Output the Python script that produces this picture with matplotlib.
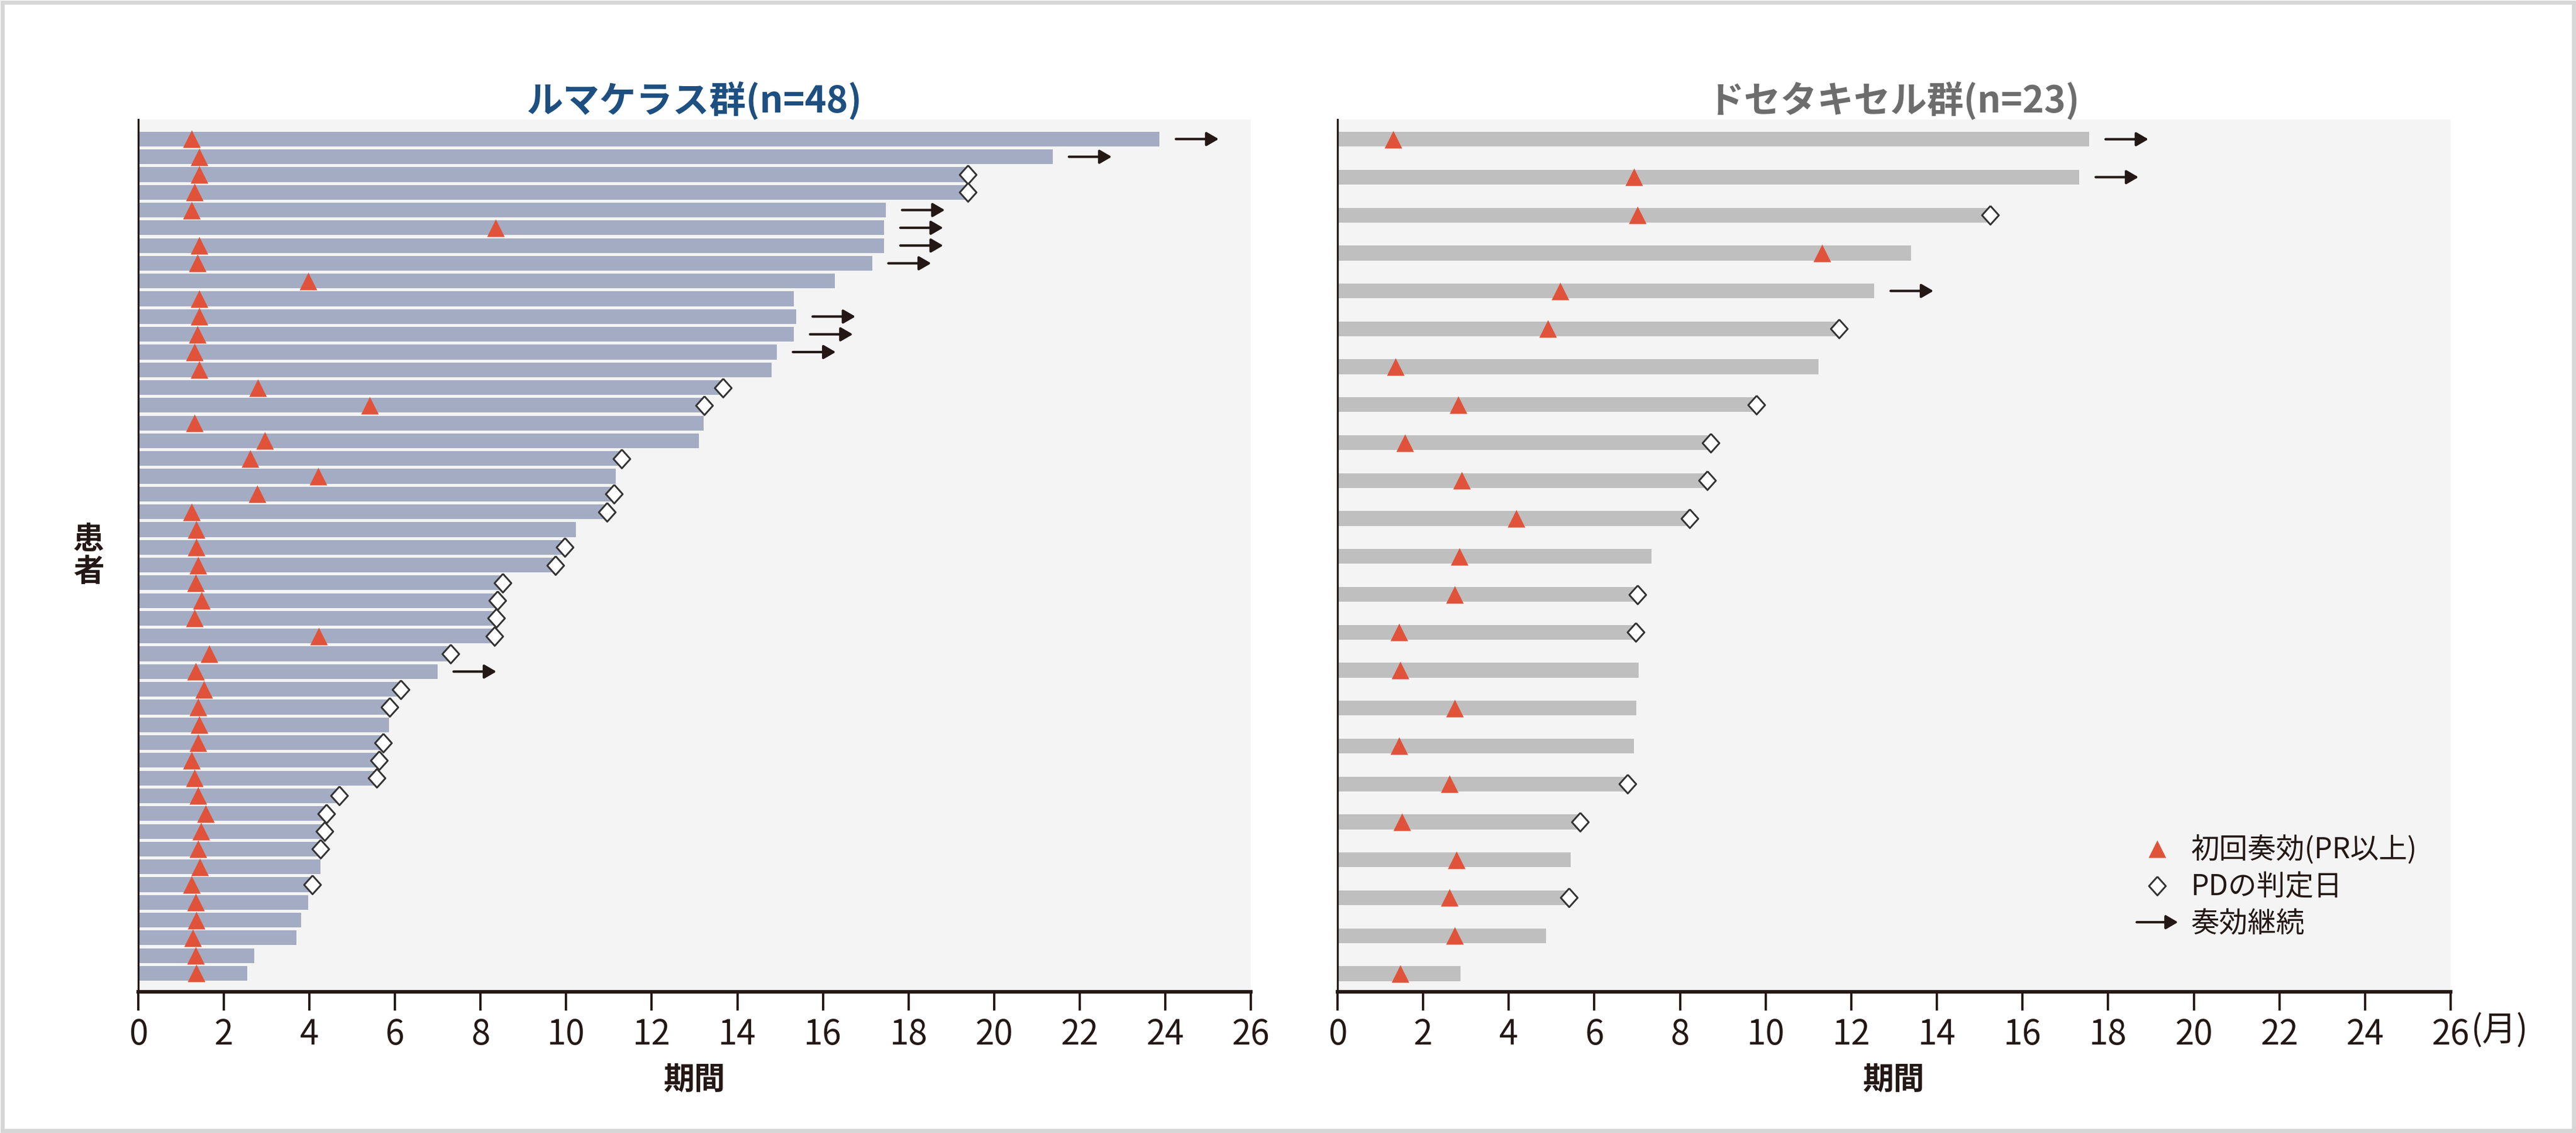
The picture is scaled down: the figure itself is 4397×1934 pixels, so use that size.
#Swimmer plot: response duration by patient, two treatment groups
import numpy as np
import matplotlib.pyplot as plt
from matplotlib.lines import Line2D
from matplotlib.patches import FancyArrowPatch, Rectangle
from matplotlib.legend_handler import HandlerBase

plt.rcParams['font.family'] = ['Noto Sans CJK JP', 'DejaVu Sans']


#1. Data (months), top row first
left_title = 'ルマケラス群(n=48)'
left_end = [23.87, 21.37, 19.39, 19.39, 17.47, 17.43, 17.43, 17.15, 16.28, 15.32,
            15.38, 15.32, 14.92, 14.80, 13.67, 13.23, 13.21, 13.10, 11.29, 11.16,
            11.12, 10.96, 10.23, 9.97, 9.75, 8.51, 8.39, 8.37, 8.33, 7.30,
            6.99, 6.14, 5.88, 5.86, 5.72, 5.63, 5.57, 4.70, 4.40, 4.36,
            4.26, 4.26, 4.07, 3.97, 3.80, 3.69, 2.71, 2.55]
left_first = [1.25, 1.42, 1.42, 1.32, 1.25, 8.35, 1.42, 1.38, 3.97, 1.42,
              1.42, 1.38, 1.32, 1.42, 2.80, 5.41, 1.31, 2.96, 2.61, 4.21,
              2.78, 1.25, 1.36, 1.36, 1.40, 1.34, 1.48, 1.31, 4.22, 1.65,
              1.34, 1.54, 1.40, 1.42, 1.40, 1.25, 1.32, 1.40, 1.57, 1.46,
              1.40, 1.44, 1.25, 1.34, 1.36, 1.27, 1.34, 1.36]
# 'pd' = PD date, 'arrow' = response ongoing, '' = nothing
left_status = ['arrow', 'arrow', 'pd', 'pd', 'arrow', 'arrow', 'arrow', 'arrow', '', '',
               'arrow', 'arrow', 'arrow', '', 'pd', 'pd', '', '', 'pd', '',
               'pd', 'pd', '', 'pd', 'pd', 'pd', 'pd', 'pd', 'pd', 'pd',
               'arrow', 'pd', 'pd', '', 'pd', 'pd', 'pd', 'pd', 'pd', 'pd',
               'pd', '', 'pd', '', '', '', '', '']

right_title = 'ドセタキセル群(n=23)'
right_end = [17.56, 17.33, 15.24, 13.40, 12.54, 11.72, 11.24, 9.78, 8.72, 8.63,
             8.23, 7.33, 7.00, 6.96, 7.04, 6.98, 6.92, 6.77, 5.66, 5.45,
             5.41, 4.87, 2.88]
right_first = [1.30, 6.92, 7.00, 11.31, 5.20, 4.91, 1.36, 2.82, 1.57, 2.90,
               4.18, 2.84, 2.74, 1.44, 1.46, 2.74, 1.44, 2.61, 1.50, 2.78,
               2.61, 2.74, 1.46]
right_status = ['arrow', 'arrow', 'pd', '', 'arrow', 'pd', '', 'pd', 'pd', 'pd',
                'pd', '', 'pd', 'pd', '', '', '', 'pd', 'pd', '',
                'pd', '', '']

xticks = list(range(0, 27, 2))
legend_labels = ['初回奏効(PR以上)', 'PDの判定日', '奏効継続']


#2. Styles
INK = '#231815'
RED = '#e0533a'
BG = '#f4f4f4'
diamond = [(0, 1), (0.9, 0), (0, -1), (-0.9, 0), (0, 1)]
arrow_style = '-|>,head_length=0.62,head_width=0.36'


def draw_panel(ax, ends, firsts, status, title, bar_color, bar_h, title_color, pad_rows):
    n = len(ends)
    rows = np.arange(n)
    ax.set_facecolor(BG)
    ax.barh(rows, ends, height=bar_h, color=bar_color, zorder=2)
    ax.plot(firsts, rows, linestyle='none', marker='^', ms=10.5,
            color=RED, mec='none', zorder=4)
    pd_x = [e for e, s in zip(ends, status) if s == 'pd']
    pd_y = [r for r, s in zip(rows, status) if s == 'pd']
    ax.plot(pd_x, pd_y, linestyle='none', marker=diamond, ms=11.5,
            mfc='white', mec='#333333', mew=1.1, zorder=5)
    for r, e, s in zip(rows, ends, status):
        if s == 'arrow':
            ax.annotate('', xy=(e + 1.38, r), xytext=(e + 0.38, r),
                        arrowprops=dict(arrowstyle=arrow_style, lw=1.5, color=INK,
                                        shrinkA=0, shrinkB=0), zorder=5)
    ax.set_xlim(0, 26)
    ax.set_ylim(n - 1 + pad_rows[1], -pad_rows[0])
    ax.set_xticks(xticks)
    ax.set_yticks([])
    ax.tick_params(axis='x', direction='out', length=11.5, width=1.4,
                   colors=INK, labelsize=21, pad=4)
    for side in ['top', 'right']:
        ax.spines[side].set_visible(False)
    ax.spines['left'].set_linewidth(1.2)
    ax.spines['left'].set_color(INK)
    ax.spines['bottom'].set_linewidth(2.2)
    ax.spines['bottom'].set_color(INK)
    ax.set_title(title, fontsize=22.5, fontweight='bold', color=title_color, pad=2)
    ax.set_xlabel('期間', fontsize=19, fontweight='bold', color=INK, labelpad=7)


class ArrowHandler(HandlerBase):
    def create_artists(self, legend, orig_handle, xdescent, ydescent,
                       width, height, fontsize, trans):
        y = height / 2 - ydescent
        a = FancyArrowPatch((-xdescent, y), (width - xdescent, y),
                            arrowstyle=arrow_style, mutation_scale=10,
                            lw=1.5, color=INK, shrinkA=0, shrinkB=0, transform=trans)
        return [a]


#3. Figure
fig = plt.figure(figsize=(21.985, 9.67), dpi=200)
ax1 = fig.add_axes([0.05367, 0.12461, 0.43189, 0.76991])
ax2 = fig.add_axes([0.51922, 0.12461, 0.43211, 0.76991])

draw_panel(ax1, left_end, left_first, left_status, left_title,
           '#a3acc3', 0.83, '#1d4f80', (1.1, 1.04))
draw_panel(ax2, right_end, right_first, right_status, right_title,
           '#bfbfbf', 0.39, '#6d6d6d', (0.52, 0.48))

ax2.annotate('(月)', xy=(1, 0), xycoords='axes fraction', xytext=(12.5, -24),
             textcoords='offset points', ha='left', va='center', fontsize=21, color=INK)

fig.text(151 / 4397, 1 - 949 / 1934, '患\n者', ha='center', va='center',
         fontsize=19, fontweight='bold', color=INK, linespacing=1.05)

#4. Legend
arrow_handle = FancyArrowPatch((0, 0), (1, 0))
handles = [Line2D([], [], linestyle='none', marker='^', ms=10.5, color=RED, mec='none'),
           Line2D([], [], linestyle='none', marker=diamond, ms=11.5,
                  mfc='white', mec='#333333', mew=1.1),
           arrow_handle]
ax2.legend(handles, legend_labels, loc='upper left', bbox_to_anchor=(0.718, 0.179),
           frameon=False, fontsize=17.5, handlelength=1.45, handletextpad=0.45,
           labelspacing=0.27, borderpad=0, borderaxespad=0,
           handler_map={FancyArrowPatch: ArrowHandler()}, labelcolor=INK)

# light frame round the whole picture
fig.patches.append(Rectangle((0.001, 0.002), 0.998, 0.996, transform=fig.transFigure,
                             fill=False, edgecolor='#d6d6d6', lw=2.5))

plt.savefig('out.png', dpi=200)
